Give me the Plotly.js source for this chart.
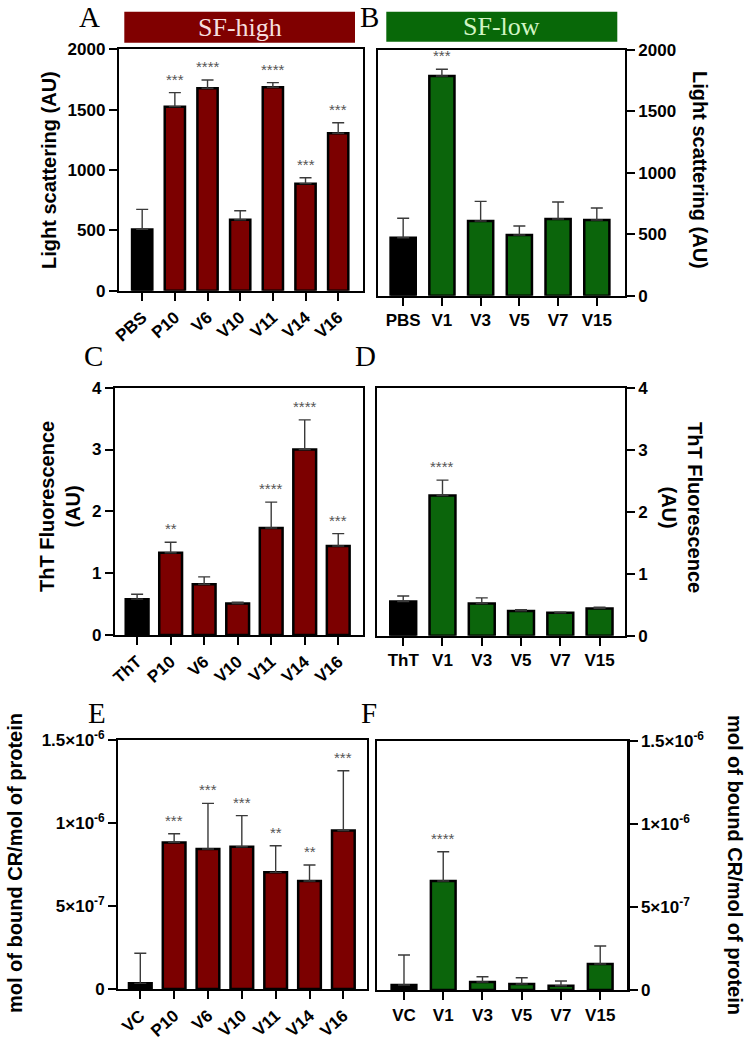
<!DOCTYPE html>
<html><head><meta charset="utf-8">
<script src="https://cdn.plot.ly/plotly-3.0.1.min.js"></script>
<style>html,body{margin:0;padding:0;background:#fff}#chart{width:748px;height:1040px}</style>
</head><body><div id="chart"></div>
<script>
// ---------- data ----------
const catsA = ["PBS","P10","V6","V10","V11","V14","V16"];
const valsA = [508,1525,1677,588,1685,887,1304];
const errA  = [166,116,69,75,39,49,88];
const starsA = ["","***","****","","****","***","***"];

const catsB = ["PBS","V1","V3","V5","V7","V15"];
const valsB = [472,1788,608,494,624,616];
const errB  = [158,55,160,73,139,98];
const starsB = ["","***","","","",""];

const catsC = ["ThT","P10","V6","V10","V11","V14","V16"];
const valsC = [0.58,1.33,0.82,0.51,1.73,3.0,1.44];
const errC  = [0.08,0.17,0.12,0.02,0.42,0.48,0.20];
const starsC = ["","**","","","****","****","***"];

const catsD = ["ThT","V1","V3","V5","V7","V15"];
const valsD = [0.55,2.26,0.52,0.40,0.37,0.44];
const errD  = [0.09,0.25,0.09,0.02,0.01,0.02];
const starsD = ["","****","","","",""];

const catsE = ["VC","P10","V6","V10","V11","V14","V16"];
const valsE = [0.34e-7,8.82e-7,8.42e-7,8.56e-7,7.02e-7,6.50e-7,9.54e-7];
const errE  = [1.81e-7,0.52e-7,2.75e-7,1.87e-7,1.60e-7,0.96e-7,3.59e-7];
const starsE = ["","***","***","***","**","**","***"];

const catsF = ["VC","V1","V3","V5","V7","V15"];
const valsF = [0.30e-7,6.57e-7,0.48e-7,0.36e-7,0.26e-7,1.57e-7];
const errF  = [1.81e-7,1.76e-7,0.32e-7,0.38e-7,0.28e-7,1.08e-7];
const starsF = ["","****","","","",""];

const crTickVals = [0,5e-7,1e-6,1.5e-6];
const crTickText = ["0","5×10<sup>-7</sup>","1×10<sup>-6</sup>","1.5×10<sup>-6</sup>"];

// ---------- styling ----------
const RED = "#7c0000", GREEN = "#0b650b", BLACK = "#000000";
const W = 748, H = 1040;
const px = v => v / W, py = v => 1 - v / H;
const tickFont = {family: "Liberation Sans, Arial, sans-serif", size: 17, color: "#000", weight: "bold"};
const titleFont = {family: "Liberation Sans, Arial, sans-serif", size: 20, color: "#000", weight: "bold"};

const panels = [
  {cats: catsA, vals: valsA, err: errA, stars: starsA, col: RED, ax: "", dom: [119,362.7,49.3,290.7], xr: [-0.71,6.75], yr: [0,2000], dt: 500, side: "left", rot: -42, bw: 0.62},
  {cats: catsB, vals: valsB, err: errB, stars: starsB, col: GREEN, ax: "2", dom: [378,624.7,50,295.7], xr: [-0.65,5.72], yr: [0,2000], dt: 500, side: "right", rot: 0, bw: 0.65},
  {cats: catsC, vals: valsC, err: errC, stars: starsC, col: RED, ax: "3", dom: [115,362.7,387.7,635], xr: [-0.66,6.73], yr: [0,4], dt: 1, side: "left", rot: -42, bw: 0.68},
  {cats: catsD, vals: valsD, err: errD, stars: starsD, col: GREEN, ax: "4", dom: [377.3,624.7,387.7,635.7], xr: [-0.66,5.64], yr: [0,4], dt: 1, side: "right", rot: 0, bw: 0.66},
  {cats: catsE, vals: valsE, err: errE, stars: starsE, col: RED, ax: "5", dom: [118.3,366.7,739.7,989], xr: [-0.65,6.69], yr: [0,1.5e-6], tv: crTickVals, tt: crTickText, side: "left", rot: -42, bw: 0.67},
  {cats: catsF, vals: valsF, err: errF, stars: starsF, col: GREEN, ax: "6", dom: [377.3,627.3,741,990], xr: [-0.68,5.69], yr: [0,1.5e-6], tv: crTickVals, tt: crTickText, side: "right", rot: 0, bw: 0.63}
];

const data = [];
const layout = {
  width: W, height: H, margin: {l:0,r:0,t:0,b:0},
  paper_bgcolor: "#fff", plot_bgcolor: "#fff", showlegend: false,
  annotations: [], shapes: []
};

panels.forEach(p => {
  const colors = p.cats.map((c,i) => i === 0 ? BLACK : p.col);
  data.push({
    type: "bar", x: p.cats, y: p.vals, width: p.bw,
    xaxis: "x" + p.ax, yaxis: "y" + p.ax,
    marker: {color: colors, line: {color: "#000", width: 2.5}},
    error_y: {type: "data", array: p.err, arrayminus: p.err.map(() => 0), symmetric: false,
              color: "#3a3a3a", thickness: 1.4, width: 6},
    hoverinfo: "skip"
  });
  const xa = {
    domain: [px(p.dom[0]), px(p.dom[1])], anchor: "y" + p.ax,
    type: "category", categoryorder: "array", categoryarray: p.cats,
    range: p.xr, showgrid: false, zeroline: false,
    showline: true, mirror: true, linecolor: "#000", linewidth: 2.2,
    ticks: "outside", ticklen: 8, tickwidth: 2, tickcolor: "#000",
    tickfont: tickFont, tickangle: p.rot, automargin: false
  };
  const ya = {
    domain: [py(p.dom[3]), py(p.dom[2])], anchor: "x" + p.ax,
    range: p.yr, side: p.side, showgrid: false, zeroline: false,
    showline: true, mirror: true, linecolor: "#000", linewidth: 2.2,
    ticks: "outside", ticklen: 8, tickwidth: 2, tickcolor: "#000",
    tickfont: tickFont, automargin: false
  };
  if (p.tv) { ya.tickmode = "array"; ya.tickvals = p.tv; ya.ticktext = p.tt; }
  else { ya.tickmode = "linear"; ya.tick0 = 0; ya.dtick = p.dt; }
  layout["xaxis" + p.ax] = xa;
  layout["yaxis" + p.ax] = ya;
  p.stars.forEach((s,i) => {
    if (!s) return;
    layout.annotations.push({
      xref: "x" + p.ax, yref: "y" + p.ax, x: p.cats[i], y: p.vals[i] + p.err[i],
      text: s, showarrow: false, yanchor: "bottom", yshift: 3,
      font: {family: "Liberation Sans, Arial, sans-serif", size: 15, color: "#555"}
    });
  });
});

// axis titles
const titles = [
  {text: "Light scattering (AU)", x: 49, y: 170, a: -90},
  {text: "Light scattering (AU)", x: 700, y: 170, a: 90},
  {text: "ThT Fluorescence<br>(AU)", x: 60, y: 507, a: -90},
  {text: "ThT Fluorescence<br>(AU)", x: 682, y: 507, a: 90},
  {text: "mol of bound CR/mol of protein", x: 15, y: 863, a: -90},
  {text: "mol of bound CR/mol of protein", x: 735, y: 865, a: 90}
];
titles.forEach(t => layout.annotations.push({
  xref: "paper", yref: "paper", x: px(t.x), y: py(t.y), text: t.text, textangle: t.a,
  showarrow: false, xanchor: "center", yanchor: "middle", font: titleFont
}));

// panel letters
const letters = [["A",89,17],["B",369,17],["C",93,356],["D",365,356],["E",97,713],["F",369,713]];
letters.forEach(l => layout.annotations.push({
  xref: "paper", yref: "paper", x: px(l[1]), y: py(l[2]), text: l[0], showarrow: false,
  xanchor: "center", yanchor: "middle",
  font: {family: "Liberation Serif, Times New Roman, serif", size: 29, color: "#000"}
}));

// group header boxes
const headers = [
  {text: "SF-high", x0: 124.3, x1: 355, y0: 11.7, y1: 42.7, fill: "#800000", fc: "#f6dede"},
  {text: "SF-low", x0: 386.3, x1: 617.3, y0: 11.7, y1: 41.7, fill: "#086808", fc: "#d2f5c4"}
];
headers.forEach(h => {
  layout.shapes.push({type: "rect", xref: "paper", yref: "paper",
    x0: px(h.x0), x1: px(h.x1), y0: py(h.y1), y1: py(h.y0),
    fillcolor: h.fill, line: {width: 0}});
  layout.annotations.push({xref: "paper", yref: "paper", x: px((h.x0+h.x1)/2), y: py((h.y0+h.y1)/2),
    text: h.text, showarrow: false, xanchor: "center", yanchor: "middle",
    font: {family: "Liberation Serif, Times New Roman, serif", size: 26, color: h.fc}});
});

Plotly.newPlot("chart", data, layout, {staticPlot: true, displayModeBar: false});
</script>
</body></html>
